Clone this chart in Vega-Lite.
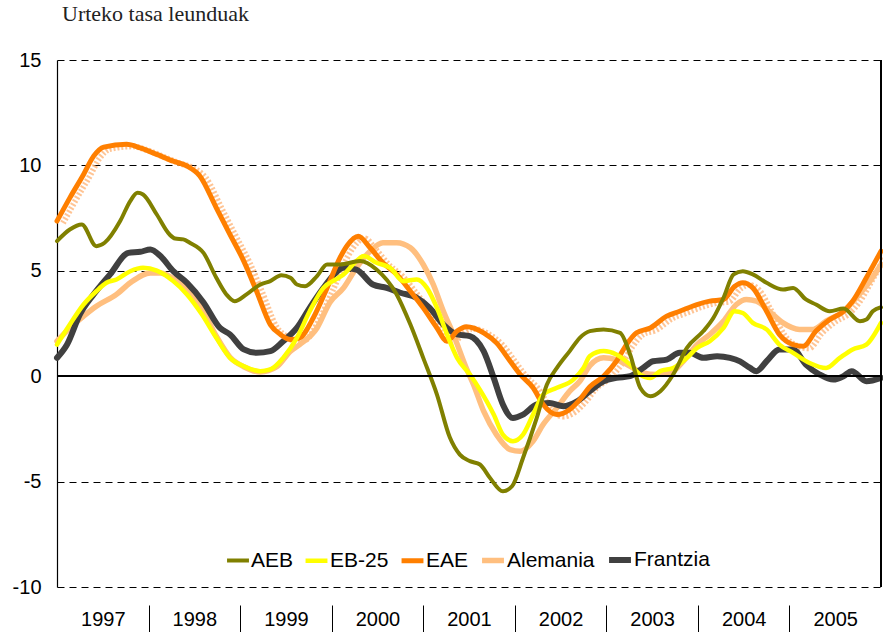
{
  "$schema": "https://vega.github.io/schema/vega-lite/v6.json",
  "autosize": "none",
  "width": 824,
  "height": 527,
  "padding": {"left": 57, "top": 60, "right": 2, "bottom": 45},
  "background": "white",
  "title": {"text": "Urteko tasa leunduak", "anchor": "start", "frame": "group", "offset": 24, "dx": 5, "font": "Liberation Serif", "fontSize": 22, "fontWeight": "normal", "color": "#222222"},
  "config": {"view": {"stroke": null}},
  "data": {"values": [
    {"seriea":"EAE","urtea":1997.00,"balioa":7.36},{"seriea":"EAE","urtea":1997.14,"balioa":8.46},{"seriea":"EAE","urtea":1997.29,"balioa":9.57},{"seriea":"EAE","urtea":1997.40,"balioa":10.44},{"seriea":"EAE","urtea":1997.51,"balioa":10.87},{"seriea":"EAE","urtea":1997.76,"balioa":11.0},{"seriea":"EAE","urtea":1997.91,"balioa":10.83},{"seriea":"EAE","urtea":1998.09,"balioa":10.52},{"seriea":"EAE","urtea":1998.27,"balioa":10.2},{"seriea":"EAE","urtea":1998.42,"balioa":9.97},{"seriea":"EAE","urtea":1998.56,"balioa":9.5},{"seriea":"EAE","urtea":1998.74,"balioa":7.99},{"seriea":"EAE","urtea":1998.89,"balioa":6.72},{"seriea":"EAE","urtea":1999.04,"balioa":5.46},{"seriea":"EAE","urtea":1999.18,"balioa":4.03},{"seriea":"EAE","urtea":1999.33,"balioa":2.45},{"seriea":"EAE","urtea":1999.44,"balioa":1.98},{"seriea":"EAE","urtea":1999.55,"balioa":1.74},{"seriea":"EAE","urtea":1999.65,"balioa":1.82},{"seriea":"EAE","urtea":1999.80,"balioa":2.77},{"seriea":"EAE","urtea":1999.95,"balioa":4.19},{"seriea":"EAE","urtea":2000.09,"balioa":5.61},{"seriea":"EAE","urtea":2000.17,"balioa":6.2},{"seriea":"EAE","urtea":2000.29,"balioa":6.64},{"seriea":"EAE","urtea":2000.42,"balioa":6.09},{"seriea":"EAE","urtea":2000.56,"balioa":5.38},{"seriea":"EAE","urtea":2000.71,"balioa":4.83},{"seriea":"EAE","urtea":2000.86,"balioa":4.03},{"seriea":"EAE","urtea":2001.00,"balioa":3.24},{"seriea":"EAE","urtea":2001.15,"balioa":2.29},{"seriea":"EAE","urtea":2001.26,"balioa":1.66},{"seriea":"EAE","urtea":2001.37,"balioa":2.14},{"seriea":"EAE","urtea":2001.47,"balioa":2.35},{"seriea":"EAE","urtea":2001.66,"balioa":2.06},{"seriea":"EAE","urtea":2001.80,"balioa":1.58},{"seriea":"EAE","urtea":2001.95,"balioa":0.71},{"seriea":"EAE","urtea":2002.06,"balioa":0.08},{"seriea":"EAE","urtea":2002.20,"balioa":-0.55},{"seriea":"EAE","urtea":2002.31,"balioa":-1.34},{"seriea":"EAE","urtea":2002.46,"balioa":-1.82},{"seriea":"EAE","urtea":2002.60,"balioa":-1.58},{"seriea":"EAE","urtea":2002.71,"balioa":-1.11},{"seriea":"EAE","urtea":2002.82,"balioa":-0.5},{"seriea":"EAE","urtea":2002.97,"balioa":0.0},{"seriea":"EAE","urtea":2003.11,"balioa":0.71},{"seriea":"EAE","urtea":2003.22,"balioa":1.5},{"seriea":"EAE","urtea":2003.33,"balioa":2.06},{"seriea":"EAE","urtea":2003.48,"balioa":2.29},{"seriea":"EAE","urtea":2003.66,"balioa":2.85},{"seriea":"EAE","urtea":2003.80,"balioa":3.08},{"seriea":"EAE","urtea":2003.99,"balioa":3.4},{"seriea":"EAE","urtea":2004.13,"balioa":3.56},{"seriea":"EAE","urtea":2004.28,"balioa":3.64},{"seriea":"EAE","urtea":2004.40,"balioa":4.25},{"seriea":"EAE","urtea":2004.49,"balioa":4.43},{"seriea":"EAE","urtea":2004.60,"balioa":4.19},{"seriea":"EAE","urtea":2004.75,"balioa":3.08},{"seriea":"EAE","urtea":2004.89,"balioa":1.98},{"seriea":"EAE","urtea":2005.04,"balioa":1.5},{"seriea":"EAE","urtea":2005.15,"balioa":1.42},{"seriea":"EAE","urtea":2005.29,"balioa":2.14},{"seriea":"EAE","urtea":2005.44,"balioa":2.69},{"seriea":"EAE","urtea":2005.59,"balioa":3.08},{"seriea":"EAE","urtea":2005.69,"balioa":3.56},{"seriea":"EAE","urtea":2005.84,"balioa":4.67},{"seriea":"EAE","urtea":2006.00,"balioa":5.93},

    {"seriea":"AEB","urtea":1997.00,"balioa":6.41},{"seriea":"AEB","urtea":1997.14,"balioa":6.96},{"seriea":"AEB","urtea":1997.27,"balioa":7.2},{"seriea":"AEB","urtea":1997.43,"balioa":6.17},{"seriea":"AEB","urtea":1997.52,"balioa":6.33},{"seriea":"AEB","urtea":1997.69,"balioa":7.36},{"seriea":"AEB","urtea":1997.80,"balioa":8.31},{"seriea":"AEB","urtea":1997.88,"balioa":8.7},{"seriea":"AEB","urtea":1997.94,"balioa":8.62},{"seriea":"AEB","urtea":1998.09,"balioa":7.67},{"seriea":"AEB","urtea":1998.23,"balioa":6.72},{"seriea":"AEB","urtea":1998.29,"balioa":6.53},{"seriea":"AEB","urtea":1998.38,"balioa":6.49},{"seriea":"AEB","urtea":1998.45,"balioa":6.33},{"seriea":"AEB","urtea":1998.60,"balioa":5.85},{"seriea":"AEB","urtea":1998.74,"balioa":4.67},{"seriea":"AEB","urtea":1998.85,"balioa":3.88},{"seriea":"AEB","urtea":1998.94,"balioa":3.56},{"seriea":"AEB","urtea":1999.07,"balioa":3.88},{"seriea":"AEB","urtea":1999.22,"balioa":4.35},{"seriea":"AEB","urtea":1999.33,"balioa":4.51},{"seriea":"AEB","urtea":1999.45,"balioa":4.79},{"seriea":"AEB","urtea":1999.55,"balioa":4.67},{"seriea":"AEB","urtea":1999.62,"balioa":4.35},{"seriea":"AEB","urtea":1999.71,"balioa":4.27},{"seriea":"AEB","urtea":1999.84,"balioa":4.75},{"seriea":"AEB","urtea":1999.95,"balioa":5.3},{"seriea":"AEB","urtea":2000.09,"balioa":5.3},{"seriea":"AEB","urtea":2000.31,"balioa":5.46},{"seriea":"AEB","urtea":2000.49,"balioa":5.06},{"seriea":"AEB","urtea":2000.71,"balioa":3.88},{"seriea":"AEB","urtea":2000.86,"balioa":2.45},{"seriea":"AEB","urtea":2001.00,"balioa":0.87},{"seriea":"AEB","urtea":2001.15,"balioa":-0.87},{"seriea":"AEB","urtea":2001.29,"balioa":-2.9},{"seriea":"AEB","urtea":2001.40,"balioa":-3.72},{"seriea":"AEB","urtea":2001.51,"balioa":-4.03},{"seriea":"AEB","urtea":2001.62,"balioa":-4.19},{"seriea":"AEB","urtea":2001.73,"balioa":-4.83},{"seriea":"AEB","urtea":2001.87,"balioa":-5.46},{"seriea":"AEB","urtea":2001.97,"balioa":-5.22},{"seriea":"AEB","urtea":2002.09,"balioa":-3.88},{"seriea":"AEB","urtea":2002.24,"balioa":-1.98},{"seriea":"AEB","urtea":2002.35,"balioa":-0.4},{"seriea":"AEB","urtea":2002.46,"balioa":0.39},{"seriea":"AEB","urtea":2002.60,"balioa":1.19},{"seriea":"AEB","urtea":2002.71,"balioa":1.82},{"seriea":"AEB","urtea":2002.82,"balioa":2.14},{"seriea":"AEB","urtea":2002.97,"balioa":2.22},{"seriea":"AEB","urtea":2003.15,"balioa":2.06},{"seriea":"AEB","urtea":2003.26,"balioa":1.03},{"seriea":"AEB","urtea":2003.37,"balioa":-0.55},{"seriea":"AEB","urtea":2003.48,"balioa":-0.95},{"seriea":"AEB","urtea":2003.59,"balioa":-0.71},{"seriea":"AEB","urtea":2003.73,"balioa":0.08},{"seriea":"AEB","urtea":2003.88,"balioa":1.34},{"seriea":"AEB","urtea":2004.06,"balioa":2.14},{"seriea":"AEB","urtea":2004.17,"balioa":2.77},{"seriea":"AEB","urtea":2004.28,"balioa":3.72},{"seriea":"AEB","urtea":2004.39,"balioa":4.83},{"seriea":"AEB","urtea":2004.49,"balioa":4.98},{"seriea":"AEB","urtea":2004.60,"balioa":4.83},{"seriea":"AEB","urtea":2004.75,"balioa":4.43},{"seriea":"AEB","urtea":2004.93,"balioa":4.11},{"seriea":"AEB","urtea":2005.04,"balioa":4.19},{"seriea":"AEB","urtea":2005.18,"balioa":3.64},{"seriea":"AEB","urtea":2005.29,"balioa":3.4},{"seriea":"AEB","urtea":2005.44,"balioa":3.08},{"seriea":"AEB","urtea":2005.59,"balioa":3.21},{"seriea":"AEB","urtea":2005.77,"balioa":2.61},{"seriea":"AEB","urtea":2005.84,"balioa":2.69},{"seriea":"AEB","urtea":2005.91,"balioa":3.08},{"seriea":"AEB","urtea":2006.00,"balioa":3.27},

    {"seriea":"EB-25","urtea":1997.00,"balioa":1.5},{"seriea":"EB-25","urtea":1997.14,"balioa":2.45},{"seriea":"EB-25","urtea":1997.29,"balioa":3.4},{"seriea":"EB-25","urtea":1997.43,"balioa":4.03},{"seriea":"EB-25","urtea":1997.54,"balioa":4.43},{"seriea":"EB-25","urtea":1997.65,"balioa":4.59},{"seriea":"EB-25","urtea":1997.80,"balioa":4.98},{"seriea":"EB-25","urtea":1997.94,"balioa":5.14},{"seriea":"EB-25","urtea":1998.09,"balioa":5.01},{"seriea":"EB-25","urtea":1998.27,"balioa":4.51},{"seriea":"EB-25","urtea":1998.42,"balioa":3.88},{"seriea":"EB-25","urtea":1998.58,"balioa":2.95},{"seriea":"EB-25","urtea":1998.74,"balioa":1.82},{"seriea":"EB-25","urtea":1998.89,"balioa":0.87},{"seriea":"EB-25","urtea":1999.04,"balioa":0.47},{"seriea":"EB-25","urtea":1999.22,"balioa":0.24},{"seriea":"EB-25","urtea":1999.33,"balioa":0.32},{"seriea":"EB-25","urtea":1999.47,"balioa":0.87},{"seriea":"EB-25","urtea":1999.62,"balioa":1.82},{"seriea":"EB-25","urtea":1999.76,"balioa":3.08},{"seriea":"EB-25","urtea":1999.91,"balioa":4.19},{"seriea":"EB-25","urtea":2000.05,"balioa":4.6},{"seriea":"EB-25","urtea":2000.13,"balioa":4.83},{"seriea":"EB-25","urtea":2000.27,"balioa":5.46},{"seriea":"EB-25","urtea":2000.35,"balioa":5.7},{"seriea":"EB-25","urtea":2000.49,"balioa":5.38},{"seriea":"EB-25","urtea":2000.64,"balioa":5.14},{"seriea":"EB-25","urtea":2000.78,"balioa":4.51},{"seriea":"EB-25","urtea":2000.93,"balioa":4.59},{"seriea":"EB-25","urtea":2001.04,"balioa":4.19},{"seriea":"EB-25","urtea":2001.15,"balioa":3.24},{"seriea":"EB-25","urtea":2001.26,"balioa":1.98},{"seriea":"EB-25","urtea":2001.37,"balioa":0.87},{"seriea":"EB-25","urtea":2001.51,"balioa":0.08},{"seriea":"EB-25","urtea":2001.62,"balioa":-0.65},{"seriea":"EB-25","urtea":2001.77,"balioa":-1.82},{"seriea":"EB-25","urtea":2001.87,"balioa":-2.77},{"seriea":"EB-25","urtea":2001.98,"balioa":-3.08},{"seriea":"EB-25","urtea":2002.09,"balioa":-2.77},{"seriea":"EB-25","urtea":2002.20,"balioa":-1.82},{"seriea":"EB-25","urtea":2002.31,"balioa":-0.87},{"seriea":"EB-25","urtea":2002.46,"balioa":-0.55},{"seriea":"EB-25","urtea":2002.64,"balioa":-0.16},{"seriea":"EB-25","urtea":2002.75,"balioa":0.39},{"seriea":"EB-25","urtea":2002.82,"balioa":0.95},{"seriea":"EB-25","urtea":2002.97,"balioa":1.19},{"seriea":"EB-25","urtea":2003.11,"balioa":1.03},{"seriea":"EB-25","urtea":2003.26,"balioa":0.55},{"seriea":"EB-25","urtea":2003.37,"balioa":0.08},{"seriea":"EB-25","urtea":2003.48,"balioa":-0.08},{"seriea":"EB-25","urtea":2003.59,"balioa":0.24},{"seriea":"EB-25","urtea":2003.73,"balioa":0.39},{"seriea":"EB-25","urtea":2003.88,"balioa":0.87},{"seriea":"EB-25","urtea":2003.99,"balioa":1.34},{"seriea":"EB-25","urtea":2004.13,"balioa":1.66},{"seriea":"EB-25","urtea":2004.28,"balioa":2.29},{"seriea":"EB-25","urtea":2004.40,"balioa":3.08},{"seriea":"EB-25","urtea":2004.49,"balioa":3.0},{"seriea":"EB-25","urtea":2004.60,"balioa":2.53},{"seriea":"EB-25","urtea":2004.75,"balioa":2.22},{"seriea":"EB-25","urtea":2004.89,"balioa":1.5},{"seriea":"EB-25","urtea":2005.04,"balioa":1.11},{"seriea":"EB-25","urtea":2005.22,"balioa":0.63},{"seriea":"EB-25","urtea":2005.40,"balioa":0.39},{"seriea":"EB-25","urtea":2005.55,"balioa":0.87},{"seriea":"EB-25","urtea":2005.69,"balioa":1.27},{"seriea":"EB-25","urtea":2005.84,"balioa":1.5},{"seriea":"EB-25","urtea":2006.00,"balioa":2.53},

    {"seriea":"Alemania","urtea":1997.00,"balioa":1.66},{"seriea":"Alemania","urtea":1997.14,"balioa":2.29},{"seriea":"Alemania","urtea":1997.29,"balioa":2.85},{"seriea":"Alemania","urtea":1997.43,"balioa":3.32},{"seriea":"Alemania","urtea":1997.65,"balioa":3.88},{"seriea":"Alemania","urtea":1997.80,"balioa":4.43},{"seriea":"Alemania","urtea":1998.02,"balioa":4.9},{"seriea":"Alemania","urtea":1998.13,"balioa":4.9},{"seriea":"Alemania","urtea":1998.31,"balioa":4.51},{"seriea":"Alemania","urtea":1998.56,"balioa":3.4},{"seriea":"Alemania","urtea":1998.74,"balioa":1.9},{"seriea":"Alemania","urtea":1998.89,"balioa":0.9},{"seriea":"Alemania","urtea":1999.04,"balioa":0.45},{"seriea":"Alemania","urtea":1999.22,"balioa":0.2},{"seriea":"Alemania","urtea":1999.40,"balioa":0.45},{"seriea":"Alemania","urtea":1999.55,"balioa":1.19},{"seriea":"Alemania","urtea":1999.65,"balioa":1.5},{"seriea":"Alemania","urtea":1999.84,"balioa":2.29},{"seriea":"Alemania","urtea":1999.98,"balioa":3.5},{"seriea":"Alemania","urtea":2000.13,"balioa":4.19},{"seriea":"Alemania","urtea":2000.27,"balioa":5.14},{"seriea":"Alemania","urtea":2000.42,"balioa":5.93},{"seriea":"Alemania","urtea":2000.56,"balioa":6.33},{"seriea":"Alemania","urtea":2000.71,"balioa":6.33},{"seriea":"Alemania","urtea":2000.86,"balioa":6.09},{"seriea":"Alemania","urtea":2001.00,"balioa":5.3},{"seriea":"Alemania","urtea":2001.11,"balioa":4.35},{"seriea":"Alemania","urtea":2001.22,"balioa":3.08},{"seriea":"Alemania","urtea":2001.33,"balioa":1.98},{"seriea":"Alemania","urtea":2001.47,"balioa":0.39},{"seriea":"Alemania","urtea":2001.55,"balioa":-0.4},{"seriea":"Alemania","urtea":2001.66,"balioa":-1.66},{"seriea":"Alemania","urtea":2001.80,"balioa":-2.77},{"seriea":"Alemania","urtea":2001.95,"balioa":-3.48},{"seriea":"Alemania","urtea":2002.06,"balioa":-3.56},{"seriea":"Alemania","urtea":2002.20,"balioa":-3.08},{"seriea":"Alemania","urtea":2002.31,"balioa":-2.29},{"seriea":"Alemania","urtea":2002.46,"balioa":-1.5},{"seriea":"Alemania","urtea":2002.60,"balioa":-0.71},{"seriea":"Alemania","urtea":2002.71,"balioa":-0.24},{"seriea":"Alemania","urtea":2002.82,"balioa":0.5},{"seriea":"Alemania","urtea":2002.97,"balioa":0.87},{"seriea":"Alemania","urtea":2003.11,"balioa":0.79},{"seriea":"Alemania","urtea":2003.26,"balioa":0.47},{"seriea":"Alemania","urtea":2003.40,"balioa":0.16},{"seriea":"Alemania","urtea":2003.55,"balioa":0.08},{"seriea":"Alemania","urtea":2003.70,"balioa":0.16},{"seriea":"Alemania","urtea":2003.84,"balioa":0.71},{"seriea":"Alemania","urtea":2003.99,"balioa":1.5},{"seriea":"Alemania","urtea":2004.13,"balioa":1.98},{"seriea":"Alemania","urtea":2004.28,"balioa":2.61},{"seriea":"Alemania","urtea":2004.42,"balioa":3.4},{"seriea":"Alemania","urtea":2004.53,"balioa":3.64},{"seriea":"Alemania","urtea":2004.64,"balioa":3.56},{"seriea":"Alemania","urtea":2004.78,"balioa":3.08},{"seriea":"Alemania","urtea":2004.93,"balioa":2.53},{"seriea":"Alemania","urtea":2005.11,"balioa":2.22},{"seriea":"Alemania","urtea":2005.26,"balioa":2.22},{"seriea":"Alemania","urtea":2005.40,"balioa":2.61},{"seriea":"Alemania","urtea":2005.59,"balioa":3.08},{"seriea":"Alemania","urtea":2005.73,"balioa":3.72},{"seriea":"Alemania","urtea":2005.88,"balioa":4.51},{"seriea":"Alemania","urtea":2006.00,"balioa":5.3},

    {"seriea":"Frantzia","urtea":1997.00,"balioa":0.87},{"seriea":"Frantzia","urtea":1997.11,"balioa":1.5},{"seriea":"Frantzia","urtea":1997.25,"balioa":2.93},{"seriea":"Frantzia","urtea":1997.40,"balioa":3.88},{"seriea":"Frantzia","urtea":1997.58,"balioa":4.83},{"seriea":"Frantzia","urtea":1997.78,"balioa":5.85},{"seriea":"Frantzia","urtea":1997.91,"balioa":5.9},{"seriea":"Frantzia","urtea":1998.02,"balioa":6.01},{"seriea":"Frantzia","urtea":1998.13,"balioa":5.7},{"seriea":"Frantzia","urtea":1998.27,"balioa":4.98},{"seriea":"Frantzia","urtea":1998.42,"balioa":4.43},{"seriea":"Frantzia","urtea":1998.60,"balioa":3.5},{"seriea":"Frantzia","urtea":1998.78,"balioa":2.29},{"seriea":"Frantzia","urtea":1998.89,"balioa":1.98},{"seriea":"Frantzia","urtea":1999.04,"balioa":1.27},{"seriea":"Frantzia","urtea":1999.18,"balioa":1.11},{"seriea":"Frantzia","urtea":1999.33,"balioa":1.19},{"seriea":"Frantzia","urtea":1999.47,"balioa":1.66},{"seriea":"Frantzia","urtea":1999.62,"balioa":2.29},{"seriea":"Frantzia","urtea":1999.76,"balioa":3.24},{"seriea":"Frantzia","urtea":1999.91,"balioa":4.19},{"seriea":"Frantzia","urtea":2000.02,"balioa":4.8},{"seriea":"Frantzia","urtea":2000.13,"balioa":5.14},{"seriea":"Frantzia","urtea":2000.27,"balioa":5.06},{"seriea":"Frantzia","urtea":2000.45,"balioa":4.35},{"seriea":"Frantzia","urtea":2000.60,"balioa":4.19},{"seriea":"Frantzia","urtea":2000.75,"balioa":3.96},{"seriea":"Frantzia","urtea":2000.93,"balioa":3.72},{"seriea":"Frantzia","urtea":2001.07,"balioa":3.24},{"seriea":"Frantzia","urtea":2001.22,"balioa":2.45},{"seriea":"Frantzia","urtea":2001.37,"balioa":1.98},{"seriea":"Frantzia","urtea":2001.51,"balioa":1.9},{"seriea":"Frantzia","urtea":2001.58,"balioa":1.7},{"seriea":"Frantzia","urtea":2001.66,"balioa":1.19},{"seriea":"Frantzia","urtea":2001.77,"balioa":-0.08},{"seriea":"Frantzia","urtea":2001.87,"balioa":-1.34},{"seriea":"Frantzia","urtea":2001.98,"balioa":-1.98},{"seriea":"Frantzia","urtea":2002.09,"balioa":-1.82},{"seriea":"Frantzia","urtea":2002.24,"balioa":-1.34},{"seriea":"Frantzia","urtea":2002.38,"balioa":-1.27},{"seriea":"Frantzia","urtea":2002.53,"balioa":-1.42},{"seriea":"Frantzia","urtea":2002.68,"balioa":-1.19},{"seriea":"Frantzia","urtea":2002.82,"balioa":-0.71},{"seriea":"Frantzia","urtea":2002.97,"balioa":-0.24},{"seriea":"Frantzia","urtea":2003.11,"balioa":-0.08},{"seriea":"Frantzia","urtea":2003.26,"balioa":0.0},{"seriea":"Frantzia","urtea":2003.40,"balioa":0.39},{"seriea":"Frantzia","urtea":2003.51,"balioa":0.71},{"seriea":"Frantzia","urtea":2003.66,"balioa":0.79},{"seriea":"Frantzia","urtea":2003.80,"balioa":1.11},{"seriea":"Frantzia","urtea":2003.91,"balioa":1.11},{"seriea":"Frantzia","urtea":2004.06,"balioa":0.87},{"seriea":"Frantzia","urtea":2004.21,"balioa":0.95},{"seriea":"Frantzia","urtea":2004.35,"balioa":0.87},{"seriea":"Frantzia","urtea":2004.46,"balioa":0.7},{"seriea":"Frantzia","urtea":2004.57,"balioa":0.39},{"seriea":"Frantzia","urtea":2004.64,"balioa":0.24},{"seriea":"Frantzia","urtea":2004.75,"balioa":0.71},{"seriea":"Frantzia","urtea":2004.89,"balioa":1.27},{"seriea":"Frantzia","urtea":2005.04,"balioa":1.27},{"seriea":"Frantzia","urtea":2005.18,"balioa":0.55},{"seriea":"Frantzia","urtea":2005.33,"balioa":0.08},{"seriea":"Frantzia","urtea":2005.48,"balioa":-0.16},{"seriea":"Frantzia","urtea":2005.59,"balioa":0.0},{"seriea":"Frantzia","urtea":2005.68,"balioa":0.24},{"seriea":"Frantzia","urtea":2005.84,"balioa":-0.24},{"seriea":"Frantzia","urtea":2006.00,"balioa":-0.08}
  ]},
  "resolve": {"axis": {"x": "independent"}},
  "layer": [
    {
      "transform": [{"filter": "datum.seriea === 'EAE'"}],
      "mark": {"type": "line", "interpolate": "monotone", "color": "#FFB070", "strokeWidth": 6, "strokeDash": [2, 2], "opacity": 0.75, "xOffset": 6, "yOffset": 2},
      "encoding": {
        "x": {"field": "urtea", "type": "quantitative", "scale": {"domain": [1997, 2006], "nice": false, "zero": false}, "axis": null},
        "y": {"field": "balioa", "type": "quantitative", "scale": {"domain": [-10, 15], "nice": false}, "axis": {"values": [-10, -5, 0, 5, 10, 15], "labelExpr": "datum.value", "grid": true, "gridDash": [7, 5], "gridColor": "#000000", "gridOpacity": 1, "gridWidth": 1, "domain": true, "domainColor": "#000000", "domainWidth": 1.2, "ticks": false, "labelPadding": 16, "labelFont": "Liberation Sans", "labelFontSize": 20, "labelColor": "#000000", "title": null}}
      }
    },
    {
      "transform": [{"filter": "datum.seriea === 'Alemania'"}],
      "mark": {"type": "line", "interpolate": "monotone", "strokeCap": "round", "strokeJoin": "round"},
      "encoding": {
        "x": {"field": "urtea", "type": "quantitative", "axis": null},
        "y": {"field": "balioa", "type": "quantitative"},
        "color": {"field": "seriea", "type": "nominal"},
        "strokeWidth": {"field": "seriea", "type": "nominal"}
      }
    },
    {
      "transform": [{"filter": "datum.seriea === 'Frantzia'"}],
      "mark": {"type": "line", "interpolate": "monotone", "strokeCap": "round", "strokeJoin": "round"},
      "encoding": {
        "x": {"field": "urtea", "type": "quantitative", "axis": null},
        "y": {"field": "balioa", "type": "quantitative"},
        "color": {"field": "seriea", "type": "nominal"},
        "strokeWidth": {"field": "seriea", "type": "nominal"}
      }
    },
    {
      "transform": [{"filter": "datum.seriea === 'EAE'"}],
      "mark": {"type": "line", "interpolate": "monotone", "strokeCap": "round", "strokeJoin": "round"},
      "encoding": {
        "x": {"field": "urtea", "type": "quantitative", "axis": null},
        "y": {"field": "balioa", "type": "quantitative"},
        "color": {"field": "seriea", "type": "nominal"},
        "strokeWidth": {"field": "seriea", "type": "nominal"}
      }
    },
    {
      "transform": [{"filter": "datum.seriea === 'EB-25'"}],
      "mark": {"type": "line", "interpolate": "monotone", "strokeCap": "round", "strokeJoin": "round"},
      "encoding": {
        "x": {"field": "urtea", "type": "quantitative", "axis": null},
        "y": {"field": "balioa", "type": "quantitative"},
        "color": {"field": "seriea", "type": "nominal"},
        "strokeWidth": {"field": "seriea", "type": "nominal"}
      }
    },
    {
      "transform": [{"filter": "datum.seriea === 'AEB'"}],
      "mark": {"type": "line", "interpolate": "monotone", "strokeCap": "round", "strokeJoin": "round"},
      "encoding": {
        "x": {"field": "urtea", "type": "quantitative", "axis": {"orient": "bottom", "values": [1997.5, 1998.5, 1999.5, 2000.5, 2001.5, 2002.5, 2003.5, 2004.5, 2005.5], "labelExpr": "floor(datum.value)", "ticks": false, "domain": false, "grid": false, "labelPadding": 22, "labelFont": "Liberation Sans", "labelFontSize": 20, "labelColor": "#000000", "labelFlush": false, "labelOverlap": false, "title": null}},
        "y": {"field": "balioa", "type": "quantitative"},
        "color": {"field": "seriea", "type": "nominal", "scale": {"domain": ["AEB", "EB-25", "EAE", "Alemania", "Frantzia"], "range": ["#808000", "#FFFF00", "#FF7F00", "#FFBF7F", "#404040"]}, "legend": {"title": null, "orient": "none", "direction": "horizontal", "legendX": 168, "legendY": 486, "symbolType": "stroke", "symbolSize": 480, "labelFont": "Liberation Sans", "labelFontSize": 21, "labelColor": "#000000", "labelOffset": 0, "columnPadding": 2}},
        "strokeWidth": {"field": "seriea", "type": "nominal", "scale": {"domain": ["AEB", "EB-25", "EAE", "Alemania", "Frantzia"], "range": [4, 6, 9, 4, 4]}, "legend": {"title": null, "orient": "none", "direction": "horizontal", "legendX": 168, "legendY": 486, "symbolType": "stroke", "symbolSize": 480, "labelFont": "Liberation Sans", "labelFontSize": 21, "labelColor": "#000000", "labelOffset": 0, "columnPadding": 2}}
      }
    },
    {
      "mark": {"type": "rule", "color": "#000000", "strokeWidth": 1.5},
      "encoding": {"y": {"datum": 0, "type": "quantitative"}}
    },
    {
      "mark": {"type": "rule", "color": "#000000", "strokeWidth": 1.2},
      "encoding": {
        "x": {"datum": 2006, "type": "quantitative", "axis": {"orient": "bottom", "values": [1998, 1999, 2000, 2001, 2002, 2003, 2004, 2005], "labels": false, "ticks": true, "tickSize": 28, "tickColor": "#000000", "tickWidth": 1, "domain": false, "grid": false, "offset": 18, "title": null}}
      }
    }
  ]
}
